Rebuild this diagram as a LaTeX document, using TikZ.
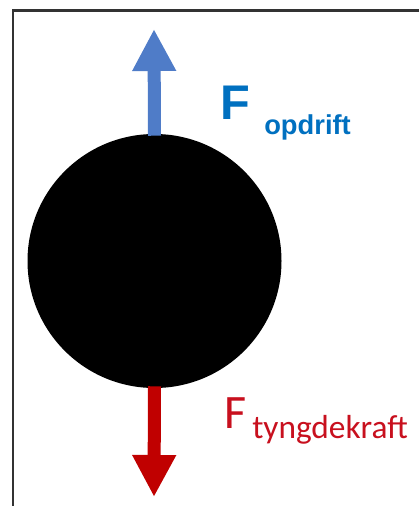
\documentclass[tikz,border=0pt]{standalone}
\usepackage{fontspec}
\usetikzlibrary{arrows.meta}
\newfontfamily\arialbold{Liberation Sans}[UprightFont=* Bold]
\newfontfamily\calibri{Carlito}
\definecolor{arrowblue}{HTML}{4F7CC8}
\definecolor{textblue}{HTML}{0070C0}
\definecolor{forcered}{HTML}{C00000}
\definecolor{labelred}{HTML}{C8101E}
\definecolor{framegray}{HTML}{333333}
\tikzset{
  force/.style={line width=9.75pt, -{Triangle[width=30.75pt,length=31.5pt]}},
  lbl/.style={inner sep=0pt, anchor=base west},
}
\begin{document}
\begin{tikzpicture}[x=0.75pt,y=-0.75pt]
\useasboundingbox (0,0) rectangle (418,506);
\fill[white] (0,0) rectangle (418,506);
\draw[framegray, line width=1.8pt] (13,520) -- (13,10.5) -- (430,10.5);
\node[circle, fill=black, minimum size=190.5pt, inner sep=0pt] (ball) at (154.5,261) {};
\coordinate (uptip) at (154,29);
\coordinate (downtip) at (154,497);
\draw[force, arrowblue] (ball.north) ++(0,2) -- (uptip);
\draw[force, forcered] (ball.south) ++(0,-2) -- (downtip);
\node[lbl, text=textblue, font=\arialbold\fontsize{36.5}{40}\selectfont] (fup) at (220,119.5) {F};
\node[lbl, text=textblue, font=\arialbold\fontsize{20.5}{24}\selectfont] (fupsub) at (264,135) {opdrift};
\node[lbl, text=labelred, font=\calibri\fontsize{36}{40}\selectfont] (fdown) at (224,428) {F};
\node[lbl, text=labelred, font=\calibri\fontsize{25}{28}\selectfont] (fdownsub) at (252,438) {tyngdekraft};
\end{tikzpicture}
\end{document}
